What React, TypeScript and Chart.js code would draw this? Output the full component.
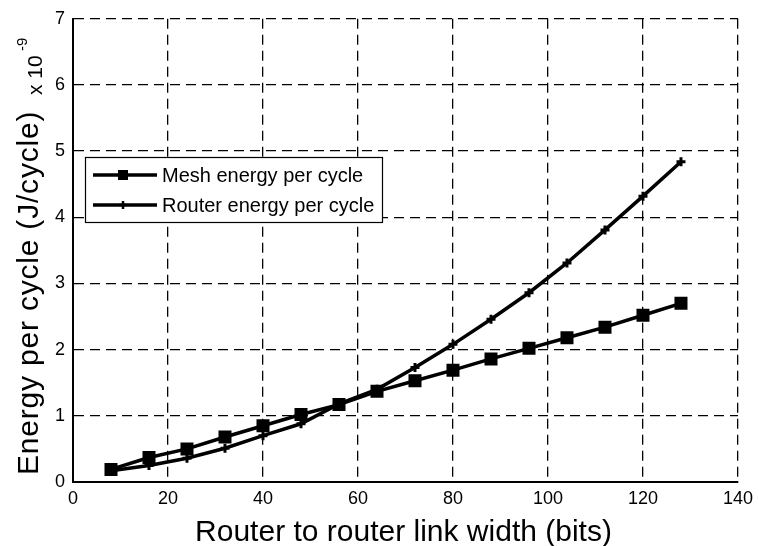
import React, { useEffect, useRef } from "react";
import { Chart, registerables } from "chart.js";

Chart.register(...registerables);

const linkWidths = [8, 16, 24, 32, 40, 48, 56, 64, 72, 80, 88, 96, 104, 112, 120, 128];
const meshEnergy = [0.19, 0.37, 0.5, 0.68, 0.85, 1.02, 1.17, 1.37, 1.53, 1.69, 1.86, 2.02, 2.18, 2.34, 2.52, 2.7];
const routerEnergy = [0.17, 0.25, 0.36, 0.51, 0.7, 0.88, 1.18, 1.4, 1.73, 2.08, 2.46, 2.86, 3.31, 3.81, 4.32, 4.84];
const seriesLabels = ["Mesh energy per cycle", "Router energy per cycle"];
const xTitle = "Router to router link width (bits)";
const yTitle = "Energy per cycle (J/cycle)";
const yExpBase = "x 10";
const yExpSup = "-9";

const FONT = "'Liberation Sans', Arial, Helvetica, sans-serif";

const titlesPlugin = {
  id: "titles",
  afterDraw(chart: any) {
    const ctx = chart.ctx as CanvasRenderingContext2D;
    const area = chart.chartArea;
    ctx.save();
    ctx.fillStyle = "#000";
    // x title
    ctx.font = `30px ${FONT}`;
    ctx.textAlign = "center";
    ctx.textBaseline = "alphabetic";
    ctx.fillText(xTitle, (area.left + area.right) / 2 - 2, 541);
    // y title rotated
    ctx.save();
    ctx.translate(38, 475);
    ctx.rotate(-Math.PI / 2);
    ctx.textAlign = "left";
    ctx.font = `30px ${FONT}`;
    (ctx as any).letterSpacing = "0.8px";
    ctx.fillText(yTitle, 0, 0);
    (ctx as any).letterSpacing = "0px";
    ctx.font = `21px ${FONT}`;
    ctx.fillText(yExpBase, 380, 4);
    ctx.font = `15px ${FONT}`;
    ctx.fillText(yExpSup, 424, -11);
    ctx.restore();

    // legend
    const bx = 85, by = 157, bw = 297, bh = 65;
    ctx.fillStyle = "#fff";
    ctx.fillRect(bx, by, bw, bh);
    ctx.strokeStyle = "#000";
    ctx.lineWidth = 1.2;
    ctx.strokeRect(bx + 0.5, by + 0.5, bw, bh);
    const rows = [175, 205];
    rows.forEach((ry, i) => {
      ctx.strokeStyle = "#000";
      ctx.lineWidth = 3.5;
      ctx.beginPath();
      ctx.moveTo(93, ry);
      ctx.lineTo(157, ry);
      ctx.stroke();
      ctx.fillStyle = "#000";
      if (i === 0) {
        ctx.fillRect(123 - 5, ry - 5, 10, 10);
      } else {
        ctx.lineWidth = 2.5;
        ctx.beginPath();
        ctx.moveTo(123 - 4, ry);
        ctx.lineTo(123 + 4, ry);
        ctx.moveTo(123, ry - 4);
        ctx.lineTo(123, ry + 4);
        ctx.stroke();
      }
      ctx.font = `20px ${FONT}`;
      ctx.textAlign = "left";
      ctx.textBaseline = "middle";
      ctx.fillText(seriesLabels[i], 162, ry + 1);
    });
    ctx.restore();
  },
};

export default function App() {
  const ref = useRef<HTMLCanvasElement | null>(null);
  useEffect(() => {
    if (!ref.current) return;
    const chart = new Chart(ref.current, {
      type: "line",
      data: {
        datasets: [
          {
            label: seriesLabels[0],
            data: linkWidths.map((x, i) => ({ x, y: meshEnergy[i] })),
            borderColor: "#000",
            backgroundColor: "#000",
            borderWidth: 3.5,
            pointStyle: "rect",
            pointRadius: 9.2,
            pointBorderWidth: 0,
            pointBackgroundColor: "#000",
            tension: 0,
          },
          {
            label: seriesLabels[1],
            data: linkWidths.map((x, i) => ({ x, y: routerEnergy[i] })),
            borderColor: "#000",
            backgroundColor: "#000",
            borderWidth: 3.5,
            pointStyle: "cross",
            pointRadius: 4.5,
            pointBorderWidth: 3,
            pointBorderColor: "#000",
            tension: 0,
          },
        ],
      },
      options: {
        animation: false,
        responsive: false,
        maintainAspectRatio: false,
        layout: { padding: { top: 16, right: 19, left: 0, bottom: 0 } },
        plugins: { legend: { display: false }, tooltip: { enabled: false } },
        scales: {
          x: {
            type: "linear",
            min: 0,
            max: 140,
            ticks: {
              stepSize: 20,
              color: "#000",
              font: { family: FONT, size: 18 },
              padding: 6,
              maxRotation: 0,
            },
            grid: { color: "#000", lineWidth: 1.3, drawTicks: false },
            border: { display: true, color: "#000", width: 2, dash: [10, 6] },
            afterFit: (s: any) => {
              s.height = 64;
            },
          },
          y: {
            type: "linear",
            min: 0,
            max: 7,
            ticks: {
              stepSize: 1,
              color: "#000",
              font: { family: FONT, size: 18 },
              padding: 8,
            },
            grid: { color: "#000", lineWidth: 1.3, drawTicks: false },
            border: { display: true, color: "#000", width: 2, dash: [10, 6] },
            afterFit: (s: any) => {
              s.width = 73;
            },
          },
        },
      },
      plugins: [titlesPlugin],
    });
    return () => chart.destroy();
  }, []);
  return (
    <div style={{ position: "absolute", left: 0, top: 0, width: 759, height: 546, background: "#fff" }}>
      <canvas ref={ref} width={759} height={546} style={{ display: "block" }} />
    </div>
  );
}
